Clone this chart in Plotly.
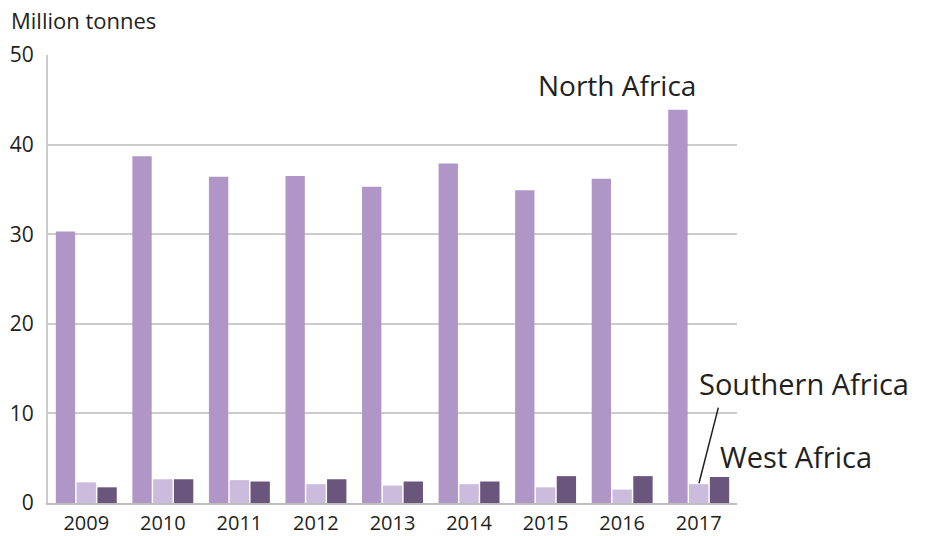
import plotly.graph_objects as go

years = ["2009", "2010", "2011", "2012", "2013", "2014", "2015", "2016", "2017"]
north_africa = [30.3, 38.7, 36.4, 36.5, 35.3, 37.9, 34.9, 36.2, 43.9]
southern_africa = [2.3, 2.65, 2.55, 2.1, 1.95, 2.1, 1.75, 1.5, 2.1]
west_africa = [1.75, 2.65, 2.4, 2.65, 2.4, 2.4, 3.0, 3.0, 2.9]

FONT = "Open Sans"
TXT = "#231f20"

fig = go.Figure()
fig.add_trace(go.Bar(name="North Africa", x=years, y=north_africa, marker_color="#af96c6"))
fig.add_trace(go.Bar(name="Southern Africa", x=years, y=southern_africa, marker_color="#cbbbdc"))
fig.add_trace(go.Bar(name="West Africa", x=years, y=west_africa, marker_color="#6a557d"))

fig.update_traces(marker_line_width=0)

fig.update_layout(
    width=928,
    height=536,
    margin=dict(l=48, r=191, t=55, b=33),
    paper_bgcolor="white",
    plot_bgcolor="white",
    barmode="group",
    bargap=0.185,
    bargroupgap=0.07,
    showlegend=False,
    font=dict(family=FONT, color=TXT),
)

fig.update_xaxes(
    type="category",
    categoryorder="array",
    categoryarray=years,
    range=[-0.5, len(years) - 0.5],
    automargin=False,
    showline=True,
    linecolor="#bdbdbd",
    linewidth=2,
    ticks="",
    showgrid=False,
    tickfont=dict(size=20, family=FONT, color=TXT),
    ticklabelstandoff=1,
)
fig.update_yaxes(
    automargin=False,
    range=[0, 50],
    dtick=10,
    showgrid=True,
    gridcolor="#cccccc",
    gridwidth=2,
    zeroline=False,
    showline=True,
    linecolor="#cccccc",
    linewidth=2,
    ticks="",
    tickfont=dict(size=21, family=FONT, color=TXT),
    ticklabelstandoff=8,
)

# Axis unit label
fig.add_annotation(
    text="Million tonnes", xref="paper", yref="paper", x=-0.057, y=1.078,
    xanchor="left", yanchor="middle", showarrow=False,
    font=dict(size=22, family=FONT, color=TXT),
)

# Series labels
fig.add_annotation(
    text="North Africa", xref="paper", yref="paper", x=0.826, y=0.933,
    xanchor="center", yanchor="middle", showarrow=False,
    font=dict(size=28, family=FONT, color=TXT),
)
fig.add_annotation(
    text="Southern Africa", xref="paper", yref="paper", x=1.097, y=0.266,
    xanchor="center", yanchor="middle", showarrow=False,
    font=dict(size=29, family=FONT, color=TXT),
)
fig.add_annotation(
    text="West Africa", xref="paper", yref="paper", x=1.086, y=0.103,
    xanchor="center", yanchor="middle", showarrow=False,
    font=dict(size=29, family=FONT, color=TXT),
)

# Leader line from the Southern Africa label to its 2017 bar
# (category axes take the category's serial index as the annotation x)
fig.add_annotation(
    x=len(years) - 1, y=southern_africa[-1], xref="x", yref="y",
    text="", showarrow=True, arrowhead=0, arrowwidth=1.5, arrowcolor=TXT,
    ax=20, ay=-78, standoff=1,
)

fig.write_html("out.html")
